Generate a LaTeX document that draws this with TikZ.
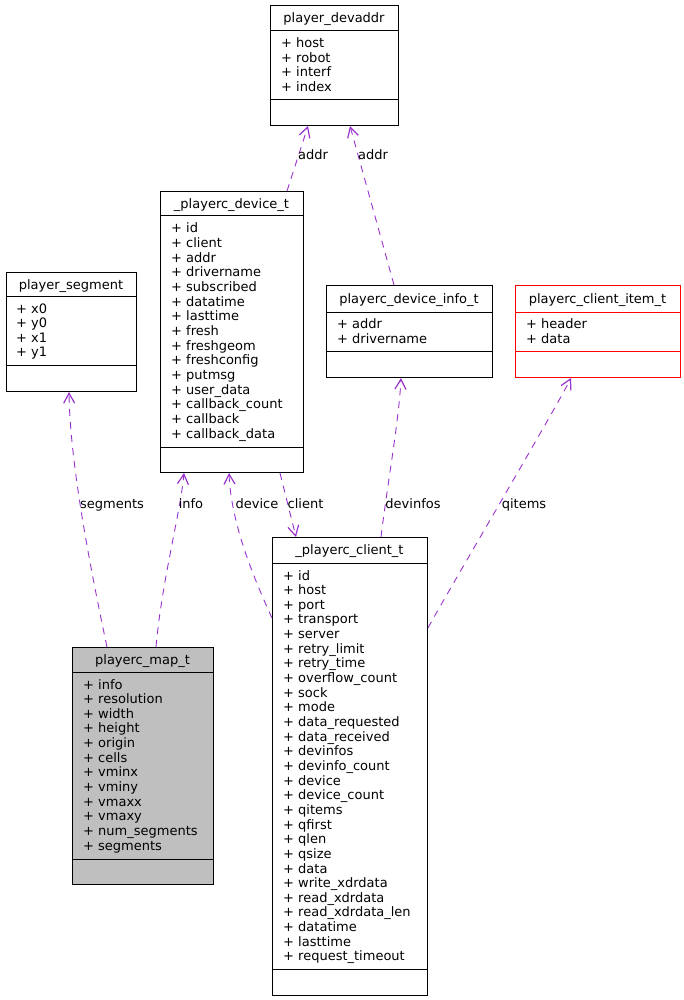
\documentclass[tikz,border=0pt]{standalone}
\usepackage{fontspec}
\setmainfont{DejaVu Sans}
\usetikzlibrary{arrows.meta,calc}
\definecolor{edgec}{HTML}{9A32CD}
\definecolor{mapfill}{HTML}{BFBFBF}
\tikzset{
  cls/.style={draw, line width=1pt, inner sep=0pt, anchor=north west, fill=white},
  ttl/.style={anchor=base, inner sep=0pt, font=\fontsize{13}{14.6}\selectfont},
  attr/.style={anchor=base west, inner sep=0pt, font=\fontsize{13}{14.6}\selectfont},
  lbl/.style={anchor=base, inner sep=0pt, font=\fontsize{13}{14.6}\selectfont},
  dep/.style={draw=edgec, line width=0.9pt, dash pattern=on 7pt off 6pt,
    -{Straight Barb[length=10pt,width=11pt,line width=1.2pt]}},
}
\begin{document}
\begin{tikzpicture}[x=1pt,y=-1pt]
\useasboundingbox (0,0) rectangle (683,1000);

% ---- player_devaddr
\node[cls, minimum width=128pt, minimum height=120pt] (devaddr) at (270,5) {};
\draw[line width=1pt] (270,31) -- (398,31) (270,100) -- (398,100);
\node[ttl] (devaddr-t) at (334,23) {player\_devaddr};
\foreach \t [count=\i from 0] in {host,robot,interf,index}
  \node[attr] (devaddr-\i) at (281,47.8+\i*14.6) {+ \t};

% ---- _playerc_device_t
\node[cls, minimum width=143pt, minimum height=281pt] (dev) at (160,191) {};
\draw[line width=1pt] (160,216) -- (303,216) (160,447) -- (303,447);
\node[ttl] (dev-t) at (231.5,208.5) {\_playerc\_device\_t};
\foreach \t [count=\i from 0] in {id,client,addr,drivername,subscribed,datatime,lasttime,fresh,freshgeom,freshconfig,putmsg,user\_data,callback\_count,callback,callback\_data}
  \node[attr] (dev-\i) at (171,233+\i*14.65) {+ \t};

% ---- player_segment
\node[cls, minimum width=130pt, minimum height=119pt] (seg) at (6,272) {};
\draw[line width=1pt] (6,296) -- (136,296) (6,365) -- (136,365);
\node[ttl] (seg-t) at (71,289) {player\_segment};
\foreach \t [count=\i from 0] in {x0,y0,x1,y1}
  \node[attr] (seg-\i) at (16,313+\i*14.6) {+ \t};

% ---- playerc_device_info_t
\node[cls, minimum width=166pt, minimum height=92pt] (info) at (326,285) {};
\draw[line width=1pt] (326,312) -- (492,312) (326,351) -- (492,351);
\node[ttl] (info-t) at (409,303) {playerc\_device\_info\_t};
\foreach \t [count=\i from 0] in {addr,drivername}
  \node[attr] (info-\i) at (337,328.5+\i*14.6) {+ \t};

% ---- playerc_client_item_t
\node[cls, draw=red, minimum width=165pt, minimum height=92pt] (item) at (515,285) {};
\draw[line width=1pt, red] (515,312) -- (680,312) (515,351) -- (680,351);
\node[ttl] (item-t) at (597.5,303) {playerc\_client\_item\_t};
\foreach \t [count=\i from 0] in {header,data}
  \node[attr] (item-\i) at (526,328.5+\i*14.6) {+ \t};

% ---- playerc_map_t
\node[cls, fill=mapfill, minimum width=141pt, minimum height=237pt] (map) at (72,647) {};
\draw[line width=1pt] (72,672) -- (213,672) (72,859) -- (213,859);
\node[ttl] (map-t) at (142.5,664.5) {playerc\_map\_t};
\foreach \t [count=\i from 0] in {info,resolution,width,height,origin,cells,vminx,vminy,vmaxx,vmaxy,num\_segments,segments}
  \node[attr] (map-\i) at (83,689+\i*14.65) {+ \t};

% ---- _playerc_client_t
\node[cls, minimum width=155pt, minimum height=458pt] (cli) at (272,537) {};
\draw[line width=1pt] (272,563) -- (427,563) (272,969) -- (427,969);
\node[ttl] (cli-t) at (349.5,554.5) {\_playerc\_client\_t};
\foreach \t [count=\i from 0] in {id,host,port,transport,server,retry\_limit,retry\_time,overflow\_count,sock,mode,data\_requested,data\_received,devinfos,devinfo\_count,device,device\_count,qitems,qfirst,qlen,qsize,data,write\_xdrdata,read\_xdrdata,read\_xdrdata\_len,datatime,lasttime,request\_timeout}
  \node[attr] (cli-\i) at (283,580+\i*14.65) {+ \t};

% ---- connectors
\draw[dep] ([xshift=127pt]dev.north west) -- ([xshift=38pt]devaddr.south west);
\draw[dep] ([xshift=68pt]info.north west) -- ([xshift=80pt]devaddr.south west);
\draw[dep] ([xshift=35pt]map.north west) .. controls (95,590) and (70,470) .. ([xshift=63pt]seg.south west);
\draw[dep] ([xshift=84pt]map.north west) .. controls (162,580) and (180,515) .. ([xshift=24pt]dev.south west);
\draw[dep] ([yshift=-81pt]cli.north west) .. controls (250,570) and (231,520) .. ([xshift=69pt]dev.south west);
\draw[dep] ([xshift=120pt]dev.south west) -- ([xshift=24pt]cli.north west);
\draw[dep] ([xshift=109pt]cli.north west) .. controls (388,480) and (399,420) .. ([xshift=75pt]info.south west);
\draw[dep] ([yshift=-91pt]cli.north east) .. controls (440,605) and (555,410) .. ([xshift=56pt]item.south west);

% ---- labels
\node[lbl] (l-addr1) at (313,160) {addr};
\node[lbl] (l-addr2) at (373,160) {addr};
\node[lbl] (l-seg) at (112,508) {segments};
\node[lbl] (l-info) at (191,508) {info};
\node[lbl] (l-dev) at (257,508) {device};
\node[lbl] (l-cli) at (305.5,508) {client};
\node[lbl] (l-devinfos) at (413,508) {devinfos};
\node[lbl] (l-qitems) at (524,508) {qitems};
\end{tikzpicture}
\end{document}
